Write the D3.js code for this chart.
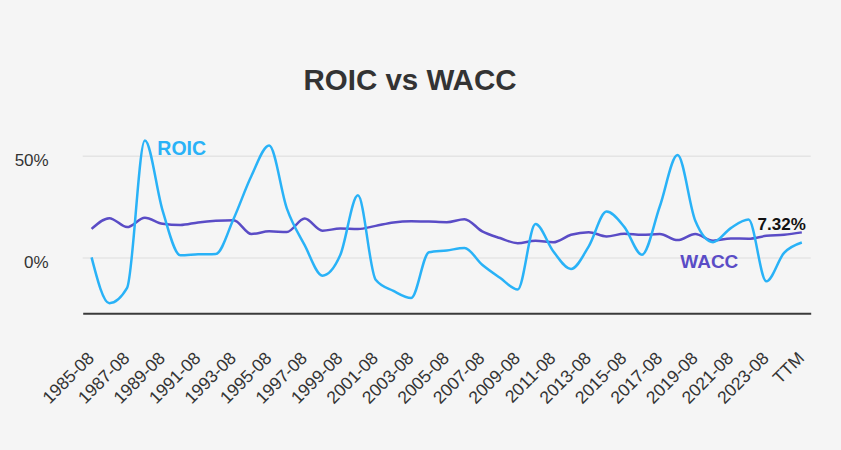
<!DOCTYPE html>
<html>
<head>
<meta charset="utf-8">
<script src="https://cdn.jsdelivr.net/npm/d3@7"></script>
<style>
  body { margin: 0; background: #f5f5f5; }
  svg { display: block; font-family: "Liberation Sans", Arial, sans-serif; }
</style>
</head>
<body>
<div id="chart"></div>
<script>
// Data (percent)
var periods = ["1985-08","1986-08","1987-08","1988-08","1989-08","1990-08","1991-08","1992-08",
  "1993-08","1994-08","1995-08","1996-08","1997-08","1998-08","1999-08","2000-08","2001-08",
  "2002-08","2003-08","2004-08","2005-08","2006-08","2007-08","2008-08","2009-08","2010-08",
  "2011-08","2012-08","2013-08","2014-08","2015-08","2016-08","2017-08","2018-08","2019-08",
  "2020-08","2021-08","2022-08","2023-08","2024-08","TTM"];

var roic = [0, -22.5, -15, 57.5, 23, 1, 1.5, 1.7, 19, 40, 55, 24, 6, -9, 1, 30.5, -11, -16.5,
  -20, 2.5, 3.4, 4.6, -3.6, -10, -15.8, 16.4, 3, -5.7, 5.4, 22.5, 15, 1.3, 25, 50.3, 18,
  7.5, 14.4, 18.6, -11.8, 2.2, 7.32];

var wacc = [14, 19.3, 14.9, 19.5, 16.5, 15.9, 17.2, 18, 18.3, 11.5, 12.8, 12.5, 19.1, 13.1,
  14.2, 13.9, 15.5, 17.2, 17.8, 17.6, 17.3, 18.8, 12.8, 9.5, 7, 8.2, 7.4, 11.1, 12.4, 10.3,
  11.6, 11.1, 11.5, 8.5, 11.5, 8.2, 9.3, 9.2, 10.6, 11.1, 12.3];

var yTicks = [0, 50];
var lastLabel = "7.32%";

var svgWidth = 841;
var svgHeight = 450;

var roicColor = "#29b2f7";
var waccColor = "#5a4cc6";

var svg = d3.select("#chart")
  .append("svg")
  .attr("width", svgWidth)
  .attr("height", svgHeight);

svg.append("rect")
  .attr("width", svgWidth)
  .attr("height", svgHeight)
  .attr("fill", "#f5f5f5");

// Title
svg.append("text")
  .attr("x", 410)
  .attr("y", 90)
  .attr("text-anchor", "middle")
  .style("font-size", "29.5px")
  .style("font-weight", "bold")
  .style("fill", "#333")
  .text("ROIC vs WACC");

// Scales
var left = 82.7, right = 810.7, bottom = 313.3;

var x = d3.scalePoint()
  .domain(periods)
  .range([left, right])
  .padding(0.5);

var y = d3.scaleLinear()
  .domain([-27.5, 50])
  .range([bottom, 155.7]);

// Y grid + labels
var yAxis = svg.append("g")
  .attr("transform", `translate(${left},0)`)
  .call(d3.axisLeft(y)
    .tickValues(yTicks)
    .tickSize(-(right - left))
    .tickPadding(34)
    .tickFormat(d => d + "%"));

yAxis.select(".domain").remove();
yAxis.selectAll(".tick line")
  .attr("stroke", "#e4e4e4")
  .attr("stroke-width", 1.5);
yAxis.selectAll(".tick text")
  .attr("dy", "0.6em")
  .style("font-size", "17px")
  .style("font-family", "Liberation Sans, Arial, sans-serif")
  .style("fill", "#333");

// X axis
var xAxis = svg.append("g")
  .attr("transform", `translate(0,${bottom})`)
  .call(d3.axisBottom(x)
    .tickValues(periods.filter((d, i) => i % 2 === 0))
    .tickSize(0));

xAxis.select(".domain")
  .attr("stroke", "#3a3a3a")
  .attr("stroke-width", 2);
xAxis.selectAll(".tick text")
  .attr("x", 0)
  .attr("y", 0)
  .attr("dy", 0)
  .attr("text-anchor", "end")
  .attr("transform", "translate(3,46) rotate(-45)")
  .style("font-size", "17.5px")
  .style("font-family", "Liberation Sans, Arial, sans-serif")
  .style("fill", "#333");

// Lines
var line = function (values) {
  return d3.line()
    .x((d, i) => x(periods[i]))
    .y(d => y(d))
    .curve(d3.curveMonotoneX)(values);
};

svg.append("path")
  .attr("d", line(wacc))
  .attr("fill", "none")
  .attr("stroke", waccColor)
  .attr("stroke-width", 2.5);

svg.append("path")
  .attr("d", line(roic))
  .attr("fill", "none")
  .attr("stroke", roicColor)
  .attr("stroke-width", 2.5);

// Series labels
svg.append("text")
  .attr("x", x(periods[3]) + 12.5)
  .attr("y", y(57.5) + 14.5)
  .style("font-size", "19.5px")
  .style("font-weight", "bold")
  .style("fill", roicColor)
  .text("ROIC");

svg.append("text")
  .attr("x", x(periods[34]) - 15)
  .attr("y", y(0) + 10.3)
  .style("font-size", "19px")
  .style("font-weight", "bold")
  .style("fill", waccColor)
  .text("WACC");

svg.append("text")
  .attr("x", x(periods[periods.length - 1]) + 4)
  .attr("y", 230)
  .attr("text-anchor", "end")
  .style("font-size", "17px")
  .style("font-weight", "bold")
  .style("fill", "#111")
  .text(lastLabel);
</script>
</body>
</html>
